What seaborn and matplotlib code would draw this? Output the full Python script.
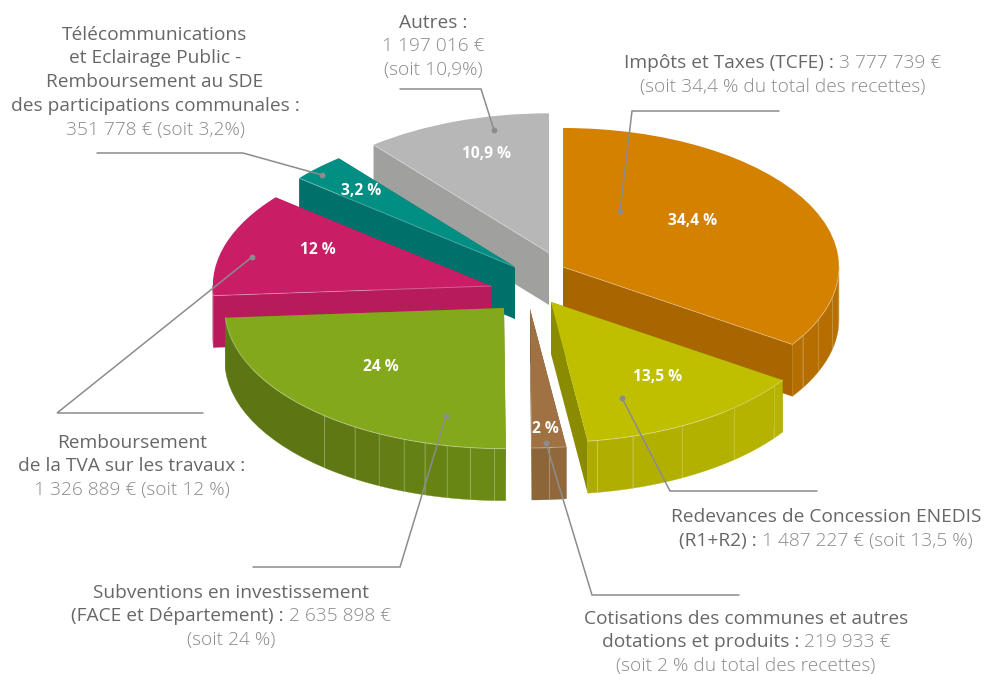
import numpy as np
import matplotlib
matplotlib.use("Agg")
import matplotlib.pyplot as plt
from matplotlib.patches import Polygon
import seaborn as sns

# ---- data (clockwise from 12 o'clock) ----
names = ["Impôts et Taxes", "Redevances", "Cotisations", "Subventions", "TVA", "Télécom", "Autres"]
shares = [34.4, 13.5, 2.0, 24.0, 12.0, 3.2, 10.9]
pct_labels = ["34,4 %", "13,5 %", "2 %", "24 %", "12 %", "3,2 %", "10,9 %"]

top_colors = ["#D58100", "#BFBF00", "#A07243", "#84A81C", "#C91D65", "#008F82", "#B7B7B7"]
wall_colors = ["#A96600", "#8B8B00", "#7A5630", "#5C7613", "#B71B5C", "#00716A", "#A0A09E"]
rim_start = ["#B56E00", "#AEAC00", "#8C6539", "#5C7613", "#B71B5C", "#00716A", "#A0A09E"]
rim_end = ["#B86F00", "#B8B600", "#936A3E", "#6E8E15", "#B71B5C", "#00716A", "#A0A09E"]

# ---- layout ----
W, H = 984, 674
RX, RY, DEPTH = 276.0, 139.0, 52.0
OX, OY = 550.0, 280.0
centers_px = [(563, 267), (551, 302), (530, 309), (504, 308), (491, 286), (515, 267), (549, 253)]
radii = [1.0, 1.01, 1.0, 1.012, 1.008, 1.01, 1.005]
z_order = [4, 5, 6, 3, 2, 1, 0]
facets = [[-29.7, -22.5, -12.9, -5.0],
          [-80.4, -73, -62, -49, -37],
          [-86],
          [-92, -96.9, -101.8, -106.5, -111, -116.6, -122.3, -130],
          [], [], []]
pct_pos = [(693, 221), (658, 377), (545, 429), (381, 367), (318, 250), (361, 191), (487, 154)]
wall_edge = ["theta1", None, None, None, "theta2", "theta2", "theta2"]
front_rim_highlight = [True, True, True, True, False, False, False]


def P(px, py):
    return (px - OX) / RX, (OY - py) / RY


sns.set_theme(style="white")
plt.rcParams["font.family"] = ["Open Sans", "DejaVu Sans"]
palette = sns.color_palette(top_colors)

fig = plt.figure(figsize=(W / 100, H / 100), dpi=100, facecolor="white")
ax = fig.add_axes([0, 0, 1, 1])
wedges, _ = ax.pie(shares, colors=palette, startangle=90, counterclock=False, radius=1.0,
                   wedgeprops=dict(linewidth=0))
ax.set_aspect("auto")
ax.set_xlim(P(0, 0)[0], P(W, 0)[0])
ax.set_ylim(P(0, H)[1], P(0, 0)[1])
sns.despine(ax=ax, left=True, bottom=True)
ax.set_axis_off()

dz = DEPTH / RY


def arc(cx, cy, r, a0, a1, n=40):
    t = np.radians(np.linspace(a0, a1, n))
    return np.column_stack([cx + r * np.cos(t), cy + r * np.sin(t)])


for i, w in enumerate(wedges):
    cx, cy = P(*centers_px[i])
    r = radii[i]
    w.set_center((cx, cy))
    w.set_radius(r)
    w.set_clip_on(False)
    base = z_order[i] * 10 + 1
    w.set_zorder(base + 3)
    a_lo, a_hi = w.theta1, w.theta2
    # side walls along both cut edges
    for ang in (a_lo, a_hi):
        e = np.array([cx + r * np.cos(np.radians(ang)), cy + r * np.sin(np.radians(ang))])
        c = np.array([cx, cy])
        ax.add_patch(Polygon([c, e, e - [0, dz], c - [0, dz]], closed=True,
                             facecolor=wall_colors[i], edgecolor="none", zorder=base))
    # curved rim, split into facets
    lo, hi = max(a_lo, -180.0), min(a_hi, 0.0)
    if hi > lo:
        stops = [lo] + sorted(f for f in facets[i] if lo < f < hi) + [hi]
        nseg = len(stops) - 1
        shades = sns.blend_palette([rim_start[i], rim_end[i]], nseg + 1)
        for k in range(nseg):
            a = arc(cx, cy, r, stops[k], stops[k + 1], 16)
            col = shades[k]
            ax.add_patch(Polygon(np.vstack([a, (a - [0, dz])[::-1]]), closed=True,
                                 facecolor=col, edgecolor=col, linewidth=0.2, zorder=base + 1))
        for f in stops[1:-1]:
            x = cx + r * np.cos(np.radians(f))
            y = cy + r * np.sin(np.radians(f))
            ax.plot([x, x], [y, y - dz], color="white", alpha=0.2, lw=0.8, zorder=base + 2)
        if front_rim_highlight[i]:
            a = arc(cx, cy, r, lo, hi, 60)
            ax.plot(a[:, 0], a[:, 1], color="white", alpha=0.35, lw=0.7, zorder=base + 4)
    if wall_edge[i]:
        ang = a_lo if wall_edge[i] == "theta1" else a_hi
        ax.plot([cx, cx + r * np.cos(np.radians(ang))], [cy, cy + r * np.sin(np.radians(ang))],
                color="white", alpha=0.3, lw=0.7, zorder=base + 4)

# ---- leader lines ----
LEAD = "#8C8C8C"
leaders = [
    [(400, 89), (481, 89), (494, 130)],
    [(97, 153), (243, 153), (322, 175)],
    [(779, 111), (632, 111), (620, 211)],
    [(817, 491), (670, 491), (622, 398)],
    [(739, 595), (592, 595), (546, 443)],
    [(253, 567), (400, 567), (446, 416)],
    [(203, 413), (57, 413), (252, 257)],
]
for pts in leaders:
    xy = np.array([P(*p) for p in pts])
    ax.plot(xy[:, 0], xy[:, 1], color=LEAD, lw=1.1, zorder=100, solid_joinstyle="miter")
    ax.plot(xy[-1, 0], xy[-1, 1], "o", color=LEAD, ms=4.2, mew=0, zorder=100)

# ---- percentages on slices ----
for lab, p in zip(pct_labels, pct_pos):
    x, y = P(*p)
    ax.text(x, y, lab, color="white", fontsize=11.2, fontweight="bold", ha="center", va="center", zorder=110)

# ---- captions: every line is a list of (text, kind) runs ----
DARK, LIGHT = "#676767", "#8A8A8A"
FS = 13.8
captions = [
    (155, 39.5, [[("Télécommunications", "d")], [("et Eclairage Public -", "d")], [("Remboursement au SDE", "d")],
                 [("des participations communales :", "d")], [("351 778 € (soit 3,2%)", "l")]]),
    (433, 27.5, [[("Autres :", "d")], [("1 197 016 €", "l")], [("(soit 10,9%)", "l")]]),
    (783, 68.5, [[("Impôts et Taxes (TCFE) : ", "d"), ("3 777 739 €", "l")],
                 [("(soit 34,4 % du total des recettes)", "l")]]),
    (826, 522.5, [[("Redevances de Concession ENEDIS", "d")],
                  [("(R1+R2) : ", "d"), ("1 487 227 € (soit 13,5 %)", "l")]]),
    (746, 623.5, [[("Cotisations des communes et autres", "d")],
                  [("dotations et produits : ", "d"), ("219 933 €", "l")],
                  [("(soit 2 % du total des recettes)", "l")]]),
    (231, 597.5, [[("Subventions en investissement", "d")],
                  [("(FACE et Département) : ", "d"), ("2 635 898 €", "l")],
                  [("(soit 24 %)", "l")]]),
    (132, 447.5, [[("Remboursement", "d")], [("de la TVA sur les travaux :", "d")],
                  [("1 326 889 € (soit 12 %)", "l")]]),
]
LINE = 23.9
fig.canvas.draw()
rend = fig.canvas.get_renderer()
for cx_px, y0, lines in captions:
    for j, runs in enumerate(lines):
        y_px = y0 + j * LINE
        items = []
        for s, kind in runs:
            t = ax.text(0, P(0, y_px)[1], s.replace(" ", "\u00a0"), fontsize=FS, va="baseline", ha="left",
                        color=DARK if kind == "d" else LIGHT,
                        fontweight="normal" if kind == "d" else "light", zorder=120)
            items.append((t, t.get_window_extent(rend).width))
        total = sum(w_ for _, w_ in items)
        x_px = cx_px - total / 2
        for t, w_ in items:
            t.set_x(P(x_px, 0)[0])
            x_px += w_

fig.savefig("out.png", dpi=100, facecolor="white")
